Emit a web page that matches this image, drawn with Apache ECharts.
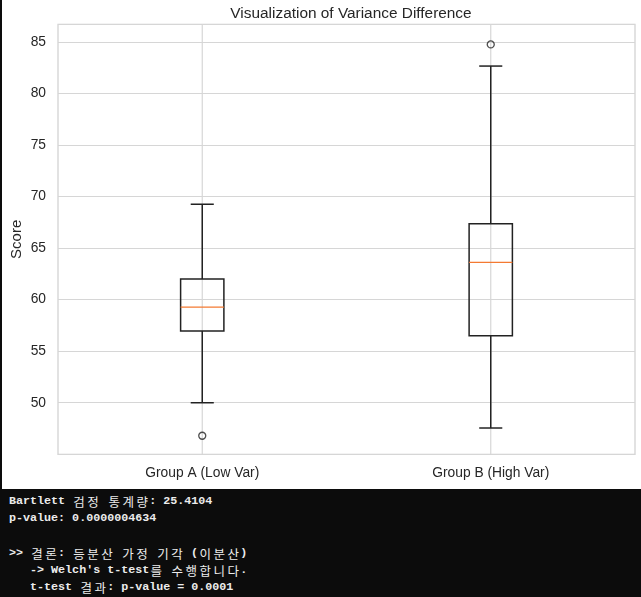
<!doctype html>
<html>
<head>
<meta charset="utf-8"/>
<title>variance difference</title>
<script src="https://cdn.jsdelivr.net/npm/echarts@6/dist/echarts.min.js"></script>
<style>
*{margin:0;padding:0;}
body{background-color:#0c0c0c;width:641px;height:597px;overflow:hidden;}
#main{position:absolute;left:2px;top:0;width:639px;height:489px;background-color:#ffffff;}
#console{
    position:absolute;left:0;top:489px;width:641px;height:108px;
    padding:4px 0 0 9px;box-sizing:border-box;
    font-family:"Liberation Mono","DejaVu Sans Mono",monospace;
    font-size:11.7px;font-weight:bold;
    color:#ececec;white-space:pre;
}
#console .ln{height:17.3px;line-height:17.3px;overflow:visible;}
#console .ko{
    display:inline-block;width:14px;text-align:center;
    line-height:17.3px;vertical-align:top;font-size:12.5px;
    font-family:"Noto Sans CJK KR",sans-serif;font-weight:normal;
}
</style>
</head>
<body>
<div id="main"></div>
<div id="console"></div>

<script type="text/javascript">
// values
var groups      = ['Group A (Low Var)', 'Group B (High Var)'];
var whiskerLow  = [50.0, 47.55];
var q1          = [56.95, 56.5];
var median      = [59.27, 63.62];
var q3          = [62.0, 67.35];
var whiskerHigh = [69.25, 82.65];
var outliers    = [[0, 46.8], [1, 84.75]];

var yMin = 45, yMax = 86.7;

var consoleLines = [
    'Bartlett 검정 통계량: 25.4104',
    'p-value: 0.0000004634',
    '',
    '>> 결론: 등분산 가정 기각 (이분산)',
    '   -> Welch\'s t-test를 수행합니다.',
    '   t-test 결과: p-value = 0.0001'
];

// console output below the chart, hangul takes two cells
var con = document.getElementById('console');
con.innerHTML = consoleLines.map(function (line) {
    var out = '';
    for (var i = 0; i < line.length; i++) {
        var c = line[i];
        if (/[\uac00-\ud7a3]/.test(c)) {
            out += '<span class="ko">' + c + '</span>';
        } else if (c === '<') {
            out += '&lt;';
        } else if (c === '>') {
            out += '&gt;';
        } else {
            out += c;
        }
    }
    return '<div class="ln">' + out + '</div>';
}).join('');

var boxData = groups.map(function (g, i) {
    return [i, whiskerLow[i], q1[i], median[i], q3[i], whiskerHigh[i]];
});

var chartDom = document.getElementById('main');
var myChart = echarts.init(chartDom);
var lineColor = '#222222';

function renderBox(params, api) {
    var idx = api.value(0);
    var band = api.size([1, 0])[0];
    var half = band * 0.075;
    var cap = band * 0.04;
    var pLow  = api.coord([idx, api.value(1)]);
    var pQ1   = api.coord([idx, api.value(2)]);
    var pMed  = api.coord([idx, api.value(3)]);
    var pQ3   = api.coord([idx, api.value(4)]);
    var pHigh = api.coord([idx, api.value(5)]);
    var gTop  = api.coord([idx, yMax]);
    var gBot  = api.coord([idx, yMin]);
    var x = pMed[0];
    var st = {stroke: lineColor, lineWidth: 1.5, fill: null};
    return {
        type: 'group',
        children: [
            // vertical grid line at the category
            {type: 'line', shape: {x1: x, y1: gTop[1], x2: x, y2: gBot[1]},
             style: {stroke: '#d6d6d6', lineWidth: 1.2}},
            {type: 'line', shape: {x1: x, y1: pHigh[1], x2: x, y2: pQ3[1]}, style: st},
            {type: 'line', shape: {x1: x, y1: pQ1[1], x2: x, y2: pLow[1]}, style: st},
            {type: 'line', shape: {x1: x - cap, y1: pHigh[1], x2: x + cap, y2: pHigh[1]}, style: st},
            {type: 'line', shape: {x1: x - cap, y1: pLow[1], x2: x + cap, y2: pLow[1]}, style: st},
            {type: 'rect', shape: {x: x - half, y: pQ3[1], width: half * 2, height: pQ1[1] - pQ3[1]},
             style: {stroke: lineColor, lineWidth: 1.5, fill: null}},
            {type: 'line', shape: {x1: x - half, y1: pMed[1], x2: x + half, y2: pMed[1]},
             style: {stroke: '#f47a32', lineWidth: 1.3}}
        ]
    };
}

var option = {
    animation: false,
    title: {
        text: 'Visualization of Variance Difference',
        left: 344,
        top: 1,
        textAlign: 'center',
        textStyle: {fontFamily: 'Liberation Sans', fontSize: 15.4, fontWeight: 'normal', color: '#262626'}
    },
    grid: {
        left: 56, right: 6, top: 24.3, bottom: 34.7,
        show: true, borderColor: '#cfcfcf', borderWidth: 1.2,
        containLabel: false,
        outerBoundsMode: 'none'
    },
    xAxis: {
        type: 'category',
        data: groups,
        boundaryGap: true,
        axisLine: {show: false},
        axisTick: {show: false},
        splitLine: {show: false},
        axisLabel: {fontFamily: 'Liberation Sans', fontSize: 13.8, color: '#262626', margin: 12, interval: 0}
    },
    yAxis: {
        type: 'value',
        min: yMin,
        max: yMax,
        interval: 5,
        name: 'Score',
        nameLocation: 'middle',
        nameGap: 34,
        nameMoveOverlap: false,
        nameTextStyle: {fontFamily: 'Liberation Sans', fontSize: 15, color: '#262626'},
        axisLine: {show: false},
        axisTick: {show: false},
        axisLabel: {fontFamily: 'Liberation Sans', fontSize: 13.8, color: '#262626', margin: 12,
                    showMinLabel: false, showMaxLabel: false},
        splitLine: {show: true, lineStyle: {color: '#d6d6d6', width: 1.2}}
    },
    series: [
        {
            type: 'custom',
            renderItem: renderBox,
            encode: {x: 0, y: [1, 2, 3, 4, 5]},
            data: boxData,
            z: 2
        },
        {
            type: 'scatter',
            symbol: 'circle',
            symbolSize: 7,
            itemStyle: {color: 'rgba(255,255,255,0)', borderColor: lineColor, borderWidth: 1.3},
            data: outliers,
            z: 3
        }
    ]
};
myChart.setOption(option);
</script>
</body>
</html>
